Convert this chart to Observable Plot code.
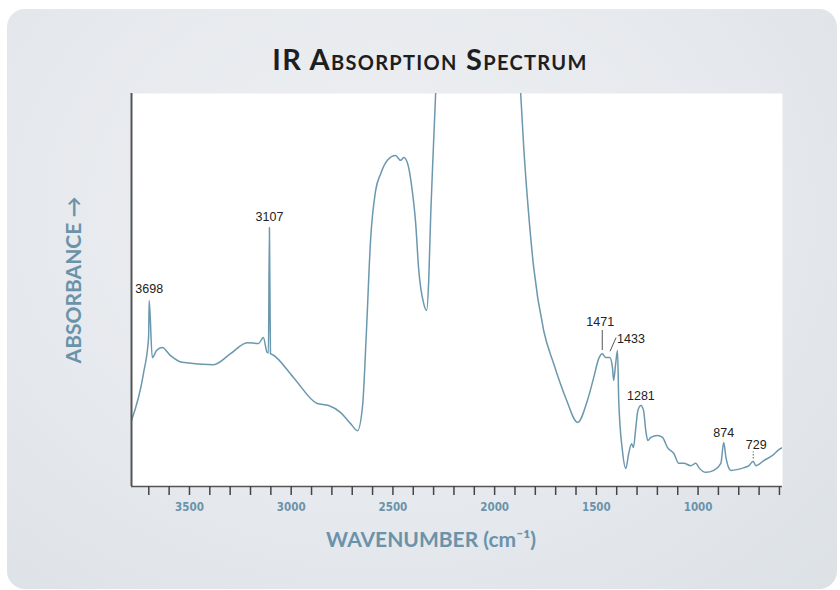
<!DOCTYPE html>
<html>
<head>
<meta charset="utf-8">
<script src="https://cdn.jsdelivr.net/npm/d3@7"></script>
<script src="https://cdn.jsdelivr.net/npm/@observablehq/plot@0.6"></script>
<style>
  html, body { margin: 0; padding: 0; background: #ffffff; width: 840px; height: 590px; overflow: hidden; }
  #panel { position: absolute; left: 7px; top: 9px; width: 830px; height: 580px; border-radius: 18px;
    background: radial-gradient(ellipse at 45% 35%, #eef0f3 0%, #e6e9ed 55%, #dce1e6 100%); }
  #wrap { position: absolute; left: 0; top: 0; width: 840px; }
  #title { height: 80px; box-sizing: border-box; padding-top: 44px; text-align: center; padding-left: 20px;
    font-family: Lato, "Open Sans", sans-serif; font-weight: 700; font-size: 29px; line-height: 29px;
    font-variant: small-caps; color: #1e1e1e; letter-spacing: 1.3px; }
  #chart svg { display: block; }
</style>
</head>
<body>
<div id="panel"></div>
<div id="wrap">
  <div id="title">IR Absorption Spectrum</div>
  <div id="chart"></div>
</div>
<script>
// Wavenumber (cm-1) and absorbance (arbitrary units, 0 = axis, 100 = top of frame)
const wavenumber = [3785, 3726, 3701, 3698, 3683, 3662, 3634, 3593, 3536, 3382, 3298, 3216, 3160, 3137, 3118, 3112, 3107, 3102, 3093, 2988, 2872, 2816, 2757, 2708, 2674, 2649, 2630, 2610, 2585, 2560, 2527, 2487, 2462, 2447, 2429, 2405, 2388, 2374, 2349, 2334, 2324, 2314, 2301, 2290, 2260, 1900, 1872, 1857, 1833, 1808, 1759, 1710, 1651, 1592, 1544, 1513, 1488, 1471, 1454, 1434, 1421, 1415, 1405, 1396, 1390, 1372, 1355, 1341, 1327, 1318, 1306, 1296, 1281, 1268, 1257, 1247, 1232, 1200, 1175, 1150, 1119, 1095, 1070, 1036, 1011, 996, 962, 923, 888, 874, 863, 848, 838, 774, 750, 729, 716, 677, 634, 603, 585];
const absorbance = [16.8, 28.8, 37.9, 47.3, 32.8, 34.6, 35.4, 33.3, 31.6, 31.0, 33.8, 36.6, 36.4, 37.9, 34.1, 34.0, 65.9, 33.8, 33.6, 27.7, 21.1, 20.6, 18.8, 16.0, 14.2, 20.6, 39.7, 62.6, 75.3, 79.6, 83.0, 84.2, 83.0, 83.7, 82.4, 75.3, 66.9, 55.7, 46.6, 44.8, 52.4, 69.5, 86.3, 100, 130, 130, 100, 86.3, 69.5, 55.7, 39.7, 31.3, 22.6, 16.3, 21.9, 27.7, 32.6, 33.8, 32.8, 32.8, 30.3, 27.0, 31.3, 34.6, 21.9, 9.2, 4.6, 8.4, 10.9, 9.9, 15.0, 19.3, 20.6, 19.3, 14.2, 11.7, 12.5, 13.0, 12.5, 9.9, 8.4, 5.9, 5.9, 5.3, 5.9, 4.8, 3.6, 4.1, 5.9, 11.2, 7.4, 4.6, 4.1, 4.8, 5.3, 6.4, 5.3, 6.6, 7.9, 9.4, 9.9];

// Labelled peaks
const peakWavenumber = [3698, 3107, 1471, 1433, 1281, 874, 729];
const peakAbsorbance = [47.3, 65.9, 33.8, 34.1, 20.6, 11.2, 6.4];

// Axis ticks
const tickValues = [3700, 3600, 3500, 3400, 3300, 3200, 3100, 3000, 2900, 2800, 2700, 2600, 2500, 2400, 2300, 2200, 2100, 2000, 1900, 1800, 1700, 1600, 1500, 1400, 1300, 1200, 1100, 1000, 900, 800, 700, 600];
const tickLabels = [3500, 3000, 2500, 2000, 1500, 1000];

const spectrum = wavenumber.map((w, i) => ({w, a: absorbance[i]}));
const peaks = peakWavenumber.map((w, i) => ({w, a: peakAbsorbance[i]}));
const pk = w => peaks.filter(d => d.w === w);

const blue = "#6a93aa";
const labelFont = "Lato, 'Open Sans', sans-serif";
const numFont = "'Liberation Sans', Arial, sans-serif";

const chart = Plot.plot({
  width: 840,
  height: 490,
  marginTop: 13,
  marginLeft: 131,
  marginRight: 58,
  marginBottom: 84,
  style: {background: "transparent", overflow: "visible"},
  x: {domain: [3785, 585], axis: null},
  y: {domain: [0, 100], axis: null},
  marks: [
    Plot.frame({fill: "white", stroke: "none"}),
    Plot.line(spectrum, {x: "w", y: "a", stroke: "#6b98ae", strokeWidth: 1.5, curve: "monotone-x", clip: true}),
    Plot.ruleX([3785], {stroke: "#555", strokeWidth: 2}),
    Plot.ruleY([0], {stroke: "#555", strokeWidth: 1.6}),
    Plot.axisX({ticks: tickValues, label: null, tickSize: 9, tickPadding: 7, stroke: "#444", strokeWidth: 1.5,
      fill: blue, fontSize: 11.5, fontWeight: "bold", fontFamily: "'DejaVu Sans Condensed', 'DejaVu Sans', sans-serif",
      tickFormat: d => tickLabels.includes(d) ? String(d) : ""}),
    // peak labels
    Plot.text(pk(3698), {x: "w", y: "a", text: d => String(d.w), dy: -12, fontSize: 12.5, fill: "#222", fontFamily: numFont}),
    Plot.text(pk(3107), {x: "w", y: "a", text: d => String(d.w), dy: -11, fontSize: 12.5, fill: "#222", fontFamily: numFont}),
    Plot.text(pk(1471), {x: "w", y: "a", text: d => String(d.w), dy: -32, dx: -2, fontSize: 12.5, fill: "#222", fontFamily: numFont}),
    Plot.ruleX(pk(1471), {x: "w", y1: d => d.a + 0.8, y2: d => d.a + 5.9, stroke: "#555", strokeWidth: 1}),
    Plot.text(pk(1433), {x: "w", y: "a", text: d => String(d.w), dx: 21, dy: -13, fontSize: 12.5, fill: "#222", fontFamily: numFont}),
    Plot.link(pk(1433), {x1: "w", y1: d => d.a + 0.3, x2: d => d.w - 30, y2: d => d.a + 3.8, stroke: "#555", strokeWidth: 1}),
    Plot.text(pk(1281), {x: "w", y: "a", text: d => String(d.w), dy: -10, fontSize: 12.5, fill: "#222", fontFamily: numFont}),
    Plot.text(pk(874), {x: "w", y: "a", text: d => String(d.w), dy: -9, fontSize: 12.5, fill: "#222", fontFamily: numFont}),
    Plot.text(pk(729), {x: "w", y: "a", text: d => String(d.w), dy: -16, dx: 3, fontSize: 12.5, fill: "#222", fontFamily: numFont}),
    Plot.ruleX(pk(729), {x: "w", y1: d => d.a + 0.6, y2: d => d.a + 2.4, stroke: "#555", strokeWidth: 1, strokeDasharray: "1.5,1.5"}),
    // axis titles
    Plot.text(["ABSORBANCE →"], {frameAnchor: "left", textAnchor: "middle", rotate: -90, dx: -57, dy: -10, fontSize: 21, fill: blue, fontFamily: labelFont, fontWeight: "bold"}),
    Plot.text(["WAVENUMBER (cm⁻¹)"], {frameAnchor: "bottom", textAnchor: "middle", dx: -26, dy: 60, fontSize: 21, fill: blue, fontFamily: labelFont, fontWeight: "bold"})
  ]
});
document.getElementById("chart").appendChild(chart);
</script>
</body>
</html>
